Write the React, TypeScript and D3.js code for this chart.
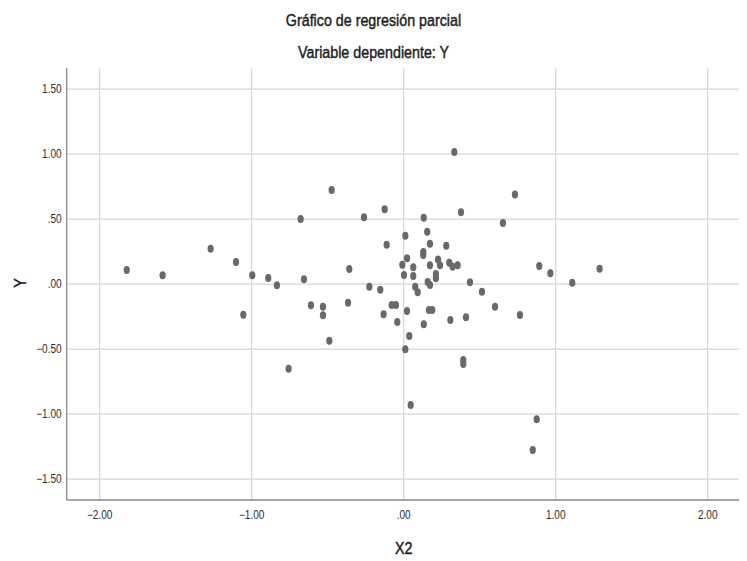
import React from "react";
import * as d3 from "d3";

const xValues: number[] = [
  -1.822, -1.586, -1.270, -1.103, -1.055, -0.996, -0.891, -0.834, -0.757, -0.678,
  -0.656, -0.610, -0.531, -0.531, -0.489, -0.474, -0.358, -0.366, 0.333, 0.732,
  -0.125, -0.261, 0.132, 0.377, 0.653, 0.155, 0.011, 0.173, -0.112, 0.280,
  0.129, 0.129, 0.022, 0.226, -0.009, 0.063, 0.173, 0.239, 0.300, 0.322,
  0.355, 0.002, 0.063, 0.212, 0.212, 0.158, 0.173, 0.436, 0.076, 0.092,
  -0.226, -0.154, 0.515, -0.079, -0.051, 0.601, -0.132, 0.022, 0.166, 0.188,
  0.765, -0.042, 0.132, 0.307, 0.410, 1.109, 0.037, 0.011, 0.392, 0.392,
  0.046, 0.875, 0.849, 0.892, 0.965, 1.289,
];
const yValues: number[] = [
  0.109, 0.068, 0.273, 0.171, -0.235, 0.068, 0.048, -0.008, -0.650, 0.502,
  0.038, -0.162, -0.173, -0.239, -0.435, 0.725, 0.117, -0.142, 1.017, 0.689,
  0.576, 0.515, 0.512, 0.553, 0.471, 0.404, 0.373, 0.312, 0.304, 0.296,
  0.248, 0.225, 0.199, 0.189, 0.150, 0.130, 0.145, 0.145, 0.165, 0.135,
  0.145, 0.071, 0.063, 0.078, 0.045, 0.017, -0.006, 0.015, -0.019, -0.062,
  -0.019, -0.042, -0.058, -0.160, -0.160, -0.173, -0.232, -0.206, -0.198, -0.198,
  -0.237, -0.291, -0.309, -0.275, -0.255, 0.012, -0.398, -0.501, -0.583, -0.614,
  -0.929, -1.039, -1.275, 0.140, 0.084, 0.119,
];
const xTicks: number[] = [-2, -1, 0, 1, 2];
const yTicks: number[] = [-1.5, -1, -0.5, 0, 0.5, 1, 1.5];

const title = "Gráfico de regresión parcial";
const subtitle = "Variable dependiente: Y";
const xLabel = "X2";
const yLabel = "Y";

const W = 747;
const H = 561;
const left = 66.7;
const right = 739;
const top = 68;
const bottom = 500;

const fmt = (v: number) => {
  const s = d3.format(".2f")(v);
  return s.replace(/^(-?)0\./, "$1.");
};

const FONT = "Liberation Sans, Arial, sans-serif";

export default function App() {
  const x = d3.scaleLinear().domain([-2.217, 2.206]).range([left, right]);
  const y = d3.scaleLinear().domain([-1.66, 1.663]).range([bottom, top]);
  const pts = xValues.map((v, i) => ({ x: v, y: yValues[i] }));
  const sx = 0.84;
  const labelStyle = { stroke: "#1e1e1e", strokeWidth: 0.45 };

  return (
    <svg
      width={W}
      height={H}
      style={{ position: "absolute", left: 0, top: 0, display: "block", background: "#fff" }}
    >
      <rect x={0} y={0} width={W} height={H} fill="#fff" />
      {yTicks.map((t) => (
        <line key={"gy" + t} x1={left} x2={right} y1={y(t)} y2={y(t)} stroke="#d6d6d6" strokeWidth={1.2} />
      ))}
      {xTicks.map((t) => (
        <line key={"gx" + t} x1={x(t)} x2={x(t)} y1={top} y2={bottom} stroke="#d6d6d6" strokeWidth={1.2} />
      ))}
      <line x1={left} x2={left} y1={top} y2={bottom} stroke="#8a8a8a" strokeWidth={1.3} />
      <line x1={left} x2={right} y1={bottom} y2={bottom} stroke="#8a8a8a" strokeWidth={1.3} />
      {yTicks.map((t) => (
        <text
          key={"ty" + t}
          transform={`translate(${left - 5},${y(t) + 4}) scale(${sx},1)`}
          textAnchor="end"
          fontFamily={FONT}
          fontSize={12}
          fill="#2e2e2e"
        >
          {fmt(t)}
        </text>
      ))}
      {xTicks.map((t) => (
        <text
          key={"tx" + t}
          transform={`translate(${x(t)},${519}) scale(${sx},1)`}
          textAnchor="middle"
          fontFamily={FONT}
          fontSize={12}
          fill="#2e2e2e"
        >
          {fmt(t)}
        </text>
      ))}
      {pts.map((p, i) => (
        <ellipse key={"p" + i} cx={x(p.x)} cy={y(p.y)} rx={3.1} ry={4} fill="#696969" />
      ))}
      <text
        transform={`translate(${373.5},${26.3}) scale(${sx},1)`}
        textAnchor="middle"
        fontFamily={FONT}
        fontSize={17}
        fill="#1e1e1e"
        {...labelStyle}
      >
        {title}
      </text>
      <text
        transform={`translate(${373.5},${57.7}) scale(${sx},1)`}
        textAnchor="middle"
        fontFamily={FONT}
        fontSize={17}
        fill="#1e1e1e"
        {...labelStyle}
      >
        {subtitle}
      </text>
      <text
        transform={`translate(${403.7},${554}) scale(${sx},1)`}
        textAnchor="middle"
        fontFamily={FONT}
        fontSize={17}
        fill="#1e1e1e"
        {...labelStyle}
      >
        {xLabel}
      </text>
      <text
        transform={`translate(${26},${283}) rotate(-90) scale(${sx},1)`}
        textAnchor="middle"
        fontFamily={FONT}
        fontSize={17}
        fill="#1e1e1e"
        {...labelStyle}
      >
        {yLabel}
      </text>
    </svg>
  );
}
